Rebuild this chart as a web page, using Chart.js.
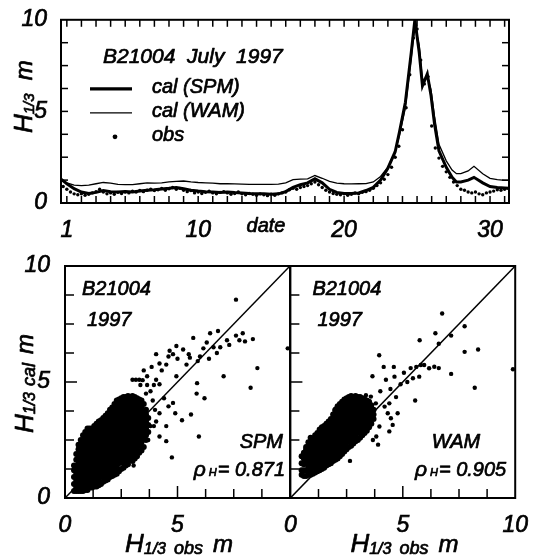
<!DOCTYPE html>
<html><head><meta charset="utf-8">
<script src="https://cdn.jsdelivr.net/npm/chart.js@4.4.0/dist/chart.umd.min.js"></script>
<style>
html,body{margin:0;padding:0;background:#fff;}
#wrap{position:relative;width:534px;height:559px;overflow:hidden;background:#fff;}
canvas{position:absolute;}
</style></head><body>
<div id="wrap">
<canvas id="cTop" width="534" height="245" style="left:0;top:0"></canvas>
<canvas id="cSpm" width="300" height="319" style="left:0;top:240px"></canvas>
<canvas id="cWam" width="256" height="319" style="left:278px;top:240px"></canvas>
</div>
<script>
// ---------------- time series (B21004, July 1997) ----------------
const modelDays = [0.6,1,1.5,2,2.5,3,3.5,4,4.5,5,5.5,6,6.5,7,7.5,8,8.5,9,9.5,10,10.5,11,11.5,12,12.5,13,13.5,14,14.5,15,15.5,16,16.5,17,17.5,18,18.5,19,19.5,20,20.5,21,21.5,22,22.5,23,23.5,23.8,24.2,24.6,24.85,25.15,25.37,25.7,25.95,26.2,26.5,27,27.4,27.7,28,28.5,28.9,29.5,30,30.5,31,31.3];
const spmH = [1.3,1.05,0.78,0.6,0.52,0.58,0.68,0.62,0.6,0.63,0.6,0.65,0.7,0.72,0.76,0.8,0.85,0.78,0.7,0.65,0.62,0.6,0.58,0.6,0.57,0.55,0.52,0.5,0.5,0.48,0.5,0.62,0.85,1.0,1.1,1.32,1.1,0.75,0.58,0.52,0.52,0.55,0.68,0.85,1.25,1.9,2.8,3.9,5.5,8.2,10.0,8.2,6.4,7.05,5.9,4.3,2.85,1.95,1.4,1.15,1.15,1.25,1.4,1.1,0.9,0.85,0.82,0.8];
const wamH = [1.25,1.1,0.98,0.95,0.98,1.05,1.12,1.08,1.02,1.0,1.0,1.05,1.1,1.08,1.1,1.15,1.18,1.2,1.15,1.12,1.1,1.08,1.05,1.05,1.04,1.03,1.02,1.02,1.02,1.02,1.03,1.1,1.28,1.3,1.32,1.5,1.35,1.18,1.08,1.05,1.04,1.05,1.06,1.15,1.45,1.95,2.8,3.7,5.2,7.9,9.7,8.6,6.7,6.9,6.2,4.7,3.2,2.3,1.8,1.6,1.6,1.75,2.0,1.6,1.35,1.28,1.24,1.24];
const obsDays = [0.75,
 1,1.25,1.5,1.75, 2,2.25,2.5,2.75, 3,3.25,3.5,3.75, 4,4.25,4.5,4.75, 5,5.25,5.5,5.75,
 6,6.25,6.5,6.75, 7,7.25,7.5,7.75, 8,8.25,8.5,8.75, 9,9.25,9.5,9.75, 10,10.25,10.5,10.75,
 11,11.25,11.5,11.75, 12,12.25,12.5,12.75, 13,13.25,13.5,13.75, 14,14.25,14.5,14.75, 15,15.25,15.5,15.75,
 16,16.25,16.5,16.75, 17,17.25,17.5,17.75, 18,18.25,18.5,18.75, 19,19.25,19.5,19.75, 20,20.25,20.5,20.75,
 21,21.25,21.5,21.75, 22,22.25,22.5,22.75, 23,23.25,23.5,23.75, 24,24.25,24.5,24.75, 25,25.25,25.5,25.75,
 26,26.25,26.5,26.75, 27,27.25,27.5,27.75, 28,28.25,28.5,28.75, 29,29.25,29.5,29.75, 30,30.25,30.5,30.75,
 31,31.25];
const obsH = [0.9,
 0.75,0.6,0.5,0.45, 0.5,0.42,0.48,0.55, 0.62,0.75,0.6,0.5, 0.55,0.48,0.58,0.52, 0.6,0.55,0.65,0.6,
 0.68,0.62,0.7,0.75, 0.68,0.72,0.8,0.7, 0.78,0.85,0.75,0.8, 0.7,0.62,0.68,0.55, 0.6,0.52,0.58,0.65,
 0.55,0.5,0.58,0.62, 0.55,0.48,0.52,0.6, 0.5,0.45,0.52,0.48, 0.42,0.5,0.45,0.4, 0.48,0.42,0.5,0.55,
 0.6,0.72,0.8,0.75, 0.85,0.9,0.95,1.05, 1.15,1.0,0.85,0.7, 0.6,0.52,0.48,0.45, 0.5,0.42,0.48,0.55,
 0.5,0.58,0.62,0.7, 0.8,0.95,1.1,1.3, 1.55,1.95,2.5,3.1, 4.0,5.2,7.0,9.0, 9.5,7.8,6.5,6.9,
 4.2,3.0,2.45,2.0, 1.7,1.4,1.15,0.95, 0.75,0.7,0.6,0.55, 0.6,0.5,0.45,0.55, 0.6,0.65,0.72,0.7,
 0.75,0.8];
const topXLabels = [1,10,20,30];
const topYLabels = [0,5,10];
const dayTicks = [1,2,3,4,5,6,7,8,9,10,11,12,13,14,15,16,17,18,19,20,21,22,23,24,25,26,27,28,29,30,31];
const hTicks = [1.25,2.5,3.75,5,6.25,7.5,8.75];

// ---------------- scatter: SPM ----------------
const spmObsCols = [0.4,0.5,0.6,0.7,0.8,0.9,1.0,1.1,1.2,1.3,1.4,1.5,1.6,1.7,1.8,1.9,2.0,2.1,2.2,2.3,2.4,2.5,2.6,2.7,2.8,2.9,3.0,3.1,3.2,3.3,3.4,3.5,3.6,3.7];
const spmCalCols = [
 [0.3,0.6,0.9,1.2,1.4],
 [0.3,0.45,0.75,1.05,1.35,1.65,1.9],
 [0.3,0.6,0.9,1.2,1.5,1.8,2.1,2.3],
 [0.3,0.45,0.75,1.05,1.35,1.65,1.95,2.25,2.5],
 [0.3,0.6,0.9,1.2,1.5,1.8,2.1,2.4,2.7],
 [0.35,0.45,0.75,1.05,1.35,1.65,1.95,2.25,2.55,2.85],
 [0.35,0.6,0.9,1.2,1.5,1.8,2.1,2.4,2.7,3.0],
 [0.45,0.75,1.05,1.35,1.65,1.95,2.25,2.55,2.85,3.0],
 [0.45,0.6,0.9,1.2,1.5,1.8,2.1,2.4,2.7,3.0],
 [0.5,0.75,1.05,1.35,1.65,1.95,2.25,2.55,2.85,3.1],
 [0.5,0.6,0.9,1.2,1.5,1.8,2.1,2.4,2.7,3.0,3.2],
 [0.55,0.75,1.05,1.35,1.65,1.95,2.25,2.55,2.85,3.15,3.3],
 [0.6,0.9,1.2,1.5,1.8,2.1,2.4,2.7,3.0,3.3,3.35],
 [0.7,1.05,1.35,1.65,1.95,2.25,2.55,2.85,3.15,3.45],
 [0.75,0.9,1.2,1.5,1.8,2.1,2.4,2.7,3.0,3.3,3.55],
 [0.8,1.05,1.35,1.65,1.95,2.25,2.55,2.85,3.15,3.45,3.65],
 [0.9,1.2,1.5,1.8,2.1,2.4,2.7,3.0,3.3,3.6,3.8],
 [0.95,1.05,1.35,1.65,1.95,2.25,2.55,2.85,3.15,3.45,3.75,3.9],
 [1.0,1.2,1.5,1.8,2.1,2.4,2.7,3.0,3.3,3.6,3.9,4.05],
 [1.05,1.35,1.65,1.95,2.25,2.55,2.85,3.15,3.45,3.75,4.05,4.2],
 [1.15,1.5,1.8,2.1,2.4,2.7,3.0,3.3,3.6,3.9,4.2,4.25],
 [1.25,1.65,1.95,2.25,2.55,2.85,3.15,3.45,3.75,4.05,4.3],
 [1.3,1.5,1.8,2.1,2.4,2.7,3.0,3.3,3.6,3.9,4.2,4.35],
 [1.4,1.65,1.95,2.25,2.55,2.85,3.15,3.45,3.75,4.05,4.35],
 [1.45,1.8,2.1,2.4,2.7,3.0,3.3,3.6,3.9,4.2,4.4],
 [1.65,1.95,2.25,2.55,2.85,3.15,3.45,3.75,4.05,4.35],
 [1.6,1.8,2.1,2.4,2.7,3.0,3.3,3.6,3.9,4.2,4.4],
 [1.7,1.95,2.25,2.55,2.85,3.15,3.45,3.75,4.05,4.35],
 [1.8,2.1,2.4,2.7,3.0,3.3,3.6,3.9,4.2,4.3],
 [1.95,2.25,2.55,2.85,3.15,3.45,3.75,4.05,4.25],
 [2.05,2.4,2.7,3.0,3.3,3.6,3.9,4.2],
 [2.2,2.55,2.85,3.15,3.45,3.75,4.05],
 [2.5,2.7,3.0,3.3,3.6,3.8],
 [2.85,3.15,3.45]
];
const spmScattered = [[7.6,8.55],[9.9,6.45],[8.55,5.6],[8.25,4.75],[7.05,5.25],[5.95,2.65],[4.75,1.75],[3.05,1.4],[5.6,3.6],[5.2,3.35],[6.2,4.3],[5.85,4.5],[5.87,4.95],[7.6,7.0],[7.75,6.8],[8.0,6.75],[8.35,6.85],[7.9,7.1],[7.2,6.8],[6.75,6.25],[6.4,6.0],[6.6,6.5],[6.9,6.5],[6.15,6.45],[6.0,6.1],[6.45,7.1],[6.8,7.2],[5.7,6.9],[5.25,6.4],[4.95,6.55],[4.65,6.35],[4.6,6.1],[4.8,6.2],[4.05,6.2],[4.2,5.8],[3.85,5.65],[3.5,5.5],[3.65,5.25],[4.05,5.1],[3.0,5.1],[3.15,5.1],[3.3,5.1],[3.45,5.08],[3.35,4.87],[3.65,4.87],[3.95,4.87],[4.5,5.75],[5.4,5.75],[5.55,6.05],[4.95,5.25],[4.8,4.1],[4.6,3.95],[4.9,3.65],[4.2,3.65],[4.05,3.3],[3.95,3.1],[4.5,3.1],[4.2,2.65],[4.5,2.45],[3.65,2.85],[3.7,2.5],[3.35,2.35],[3.25,1.95],[3.8,3.1],[4.0,3.8],[5.0,6.0],[5.5,6.2],[6.3,6.7],[7.3,6.6],[5.9,5.9],[4.3,5.5],[3.8,4.6],[4.4,4.3],[3.9,4.2],[3.6,4.5],[4.2,4.9]];

// ---------------- scatter: WAM ----------------
const wamObsCols = [0.5,0.6,0.7,0.8,0.9,1.0,1.1,1.2,1.3,1.4,1.5,1.6,1.7,1.8,1.9,2.0,2.1,2.2,2.3,2.4,2.5,2.6,2.7,2.8,2.9,3.0,3.1,3.2,3.3,3.4,3.5,3.6,3.7];
const wamCalCols = [
 [1.0,1.2,1.5,1.8],
 [0.95,1.2,1.45,1.7,1.95],
 [0.95,1.2,1.5,1.8,2.1,2.2],
 [1.0,1.35,1.65,1.95,2.25,2.4],
 [1.0,1.2,1.5,1.8,2.1,2.4,2.6],
 [1.05,1.35,1.65,1.95,2.25,2.55],
 [1.1,1.3,1.5,1.8,2.1,2.4,2.7],
 [1.15,1.35,1.65,1.95,2.25,2.55,2.8],
 [1.2,1.5,1.8,2.1,2.4,2.7,2.95],
 [1.25,1.4,1.65,1.95,2.25,2.55,2.85,3.05],
 [1.3,1.5,1.8,2.1,2.4,2.7,3.0,3.1],
 [1.4,1.65,1.95,2.25,2.55,2.85,3.15,3.2],
 [1.45,1.8,2.1,2.4,2.7,3.0,3.3],
 [1.5,1.65,1.95,2.25,2.55,2.85,3.15,3.4],
 [1.6,1.8,2.1,2.4,2.7,3.0,3.3,3.6],
 [1.65,1.95,2.25,2.55,2.85,3.15,3.45,3.75,3.8],
 [1.7,1.9,2.1,2.4,2.7,3.0,3.3,3.6,3.9,3.95],
 [1.8,1.95,2.25,2.55,2.85,3.15,3.45,3.75,4.05],
 [1.9,2.1,2.4,2.7,3.0,3.3,3.6,3.9,4.15],
 [2.0,2.25,2.55,2.85,3.15,3.45,3.75,4.05,4.25],
 [2.1,2.4,2.7,3.0,3.3,3.6,3.9,4.2,4.3],
 [2.2,2.55,2.85,3.15,3.45,3.75,4.05,4.35],
 [2.25,2.4,2.7,3.0,3.3,3.6,3.9,4.2,4.4],
 [2.35,2.55,2.85,3.15,3.45,3.75,4.05,4.35],
 [2.45,2.7,3.0,3.3,3.6,3.9,4.2,4.4],
 [2.5,2.85,3.15,3.45,3.75,4.05,4.35],
 [2.6,2.8,3.0,3.3,3.6,3.9,4.2,4.35],
 [2.7,2.85,3.15,3.45,3.75,4.05,4.3],
 [2.8,3.0,3.3,3.6,3.9,4.2,4.25],
 [2.9,3.15,3.45,3.75,4.05,4.2],
 [3.05,3.3,3.6,3.9,4.15],
 [3.2,3.45,3.75,4.0],
 [3.4,3.6,3.8]
];
const wamScattered = [[6.75,7.95],[7.75,7.4],[6.45,7.1],[7.15,7.0],[5.75,6.8],[6.6,6.65],[7.75,6.3],[8.35,6.4],[9.9,5.55],[8.2,4.75],[7.15,5.35],[3.95,6.15],[4.15,5.65],[4.6,5.65],[3.65,5.25],[4.25,5.1],[4.63,5.23],[5.05,5.4],[5.35,5.6],[5.6,5.65],[5.8,5.73],[5.95,5.73],[6.17,5.59],[6.4,5.66],[6.6,5.6],[5.45,5.16],[5.73,5.23],[5.55,4.2],[4.7,4.35],[4.4,4.08],[4.77,3.65],[4.47,3.44],[4.55,3.15],[4.4,2.87],[3.96,3.08],[4.19,3.94],[3.82,2.65],[3.9,2.3],[3.67,2.5],[4.33,3.65],[2.65,1.6],[2.58,4.22],[3.36,4.43],[3.58,4.37],[3.8,4.08],[3.7,3.8],[4.0,4.6],[4.9,4.9],[5.2,5.0],[4.45,4.7]];

const scatterXLabelsL = [0,5];
const scatterXLabelsR = [0,5,10];
const scatterYLabels = [0,5,10];
const diagLine = [0,10];

// ---------------- helpers ----------------
const FONT = "'Liberation Sans', Arial, Helvetica, sans-serif";
const fnt = (px) => `italic ${px}px ${FONT}`;
const EMB = 0.7; // slight emboldening like the printed figure
Chart.defaults.font.family = FONT;
Chart.defaults.color = '#000';

function txt(ctx, t, x, y) {
  ctx.fillText(t, x, y);
  ctx.lineWidth = EMB; ctx.strokeStyle = '#000'; ctx.lineJoin = 'round';
  ctx.strokeText(t, x, y);
}
function drawRun(ctx, x, y, parts) {
  let cx = x;
  for (const p of parts) {
    ctx.font = fnt(p.s);
    cx += p.g || 0;
    txt(ctx, p.t, cx, y + (p.dy || 0));
    cx += ctx.measureText(p.t).width;
  }
  return cx - x;
}
function runWidth(ctx, parts) {
  let w = 0;
  for (const p of parts) { ctx.font = fnt(p.s); w += (p.g || 0) + ctx.measureText(p.t).width; }
  return w;
}
function drawRunUp(ctx, x, y, parts) {
  ctx.save(); ctx.translate(x, y); ctx.rotate(-Math.PI / 2);
  drawRun(ctx, 0, 0, parts); ctx.restore();
}
function box(ctx, a, w) {
  ctx.save();
  ctx.setLineDash([]); ctx.globalAlpha = 1; ctx.globalCompositeOperation = 'source-over';
  ctx.strokeStyle = '#000'; ctx.lineWidth = w;
  ctx.strokeRect(a.left, a.top, a.right - a.left, a.bottom - a.top);
  ctx.restore();
}
function seg(ctx, x1, y1, x2, y2, w) {
  ctx.save();
  ctx.setLineDash([]); ctx.strokeStyle = '#000'; ctx.lineWidth = w; ctx.lineCap = 'butt';
  ctx.beginPath(); ctx.moveTo(x1, y1); ctx.lineTo(x2, y2); ctx.stroke();
  ctx.restore();
}
const tickFont = { family: FONT, size: 23, style: 'italic' };
const tickOpts = (pad) => ({ font: tickFont, color: '#000', padding: pad, maxRotation: 0, autoSkip: false, textStrokeColor: '#000', textStrokeWidth: EMB, callback: v => String(v) });
function fixedTicks(list) { return (s) => { s.ticks = list.map(v => ({ value: v })); }; }

// ---------------- top chart ----------------
const topDeco = {
  id: 'topDeco',
  afterDraw(chart) {
    const { ctx, chartArea: a, scales: { x, y } } = chart;
    for (const d of dayTicks) {
      const px = x.getPixelForValue(d);
      seg(ctx, px, a.bottom, px, a.bottom - 7, 1.5);
      seg(ctx, px, a.top, px, a.top + 7, 1.5);
    }
    for (const v of hTicks) {
      const py = y.getPixelForValue(v);
      seg(ctx, a.left, py, a.left + 7, py, 1.5);
      seg(ctx, a.right, py, a.right - 7, py, 1.5);
    }
    box(ctx, a, 2);
    ctx.save();
    ctx.fillStyle = '#000';
    ctx.textBaseline = 'middle';
    ctx.font = fnt(21);
    txt(ctx, 'B21004  July  1997', a.left + 42, a.top + 37);
    seg(ctx, a.left + 29, a.top + 69, a.left + 71, a.top + 69, 3.2);
    seg(ctx, a.left + 29, a.top + 93, a.left + 71, a.top + 93, 1.3);
    ctx.fillStyle = '#000';
    ctx.beginPath(); ctx.arc(a.left + 54, a.top + 117, 2.4, 0, Math.PI * 2); ctx.fill();
    ctx.font = fnt(20);
    txt(ctx, 'cal (SPM)', a.left + 91, a.top + 68);
    txt(ctx, 'cal (WAM)', a.left + 91, a.top + 92);
    txt(ctx, 'obs', a.left + 91, a.top + 116);
    ctx.textBaseline = 'alphabetic';
    drawRunUp(ctx, 32, 133, [{ t: 'H', s: 26 }, { t: '1/3', s: 15, dy: 2 }, { t: 'm', s: 24, g: 13 }]);
    ctx.font = fnt(20); ctx.textAlign = 'center';
    txt(ctx, 'date', 266, 232);
    ctx.restore();
  }
};

new Chart(document.getElementById('cTop'), {
  type: 'scatter',
  data: {
    datasets: [
      { label: 'cal (SPM)', data: modelDays.map((d, i) => ({ x: d, y: spmH[i] })), showLine: true, borderColor: '#000', borderWidth: 3, pointRadius: 0, tension: 0 },
      { label: 'cal (WAM)', data: modelDays.map((d, i) => ({ x: d, y: wamH[i] })), showLine: true, borderColor: '#000', borderWidth: 1.3, pointRadius: 0, tension: 0 },
      { label: 'obs', data: obsDays.map((d, i) => ({ x: d, y: obsH[i] })), showLine: false, pointRadius: 1.7, backgroundColor: '#000', borderWidth: 0 }
    ]
  },
  options: {
    responsive: false, animation: false, devicePixelRatio: 1,
    layout: { padding: { left: 0, top: 17, right: 25, bottom: 0 } },
    plugins: { legend: { display: false }, tooltip: { enabled: false } },
    scales: {
      x: {
        type: 'linear', min: 0.6, max: 31.3,
        afterFit: (s) => { s.height = 42; },
        afterBuildTicks: fixedTicks(topXLabels),
        grid: { display: false }, border: { display: false },
        ticks: tickOpts(6)
      },
      y: {
        min: 0, max: 10,
        afterFit: (s) => { s.width = 61; },
        afterBuildTicks: fixedTicks(topYLabels),
        grid: { display: false }, border: { display: false },
        ticks: tickOpts(6)
      }
    }
  },
  plugins: [topDeco]
});

// ---------------- scatter charts ----------------
function blobPoints(cols, lists, extra) {
  const pts = [];
  cols.forEach((x, i) => lists[i].forEach(y => pts.push({ x, y })));
  extra.forEach(p => pts.push({ x: p[0], y: p[1] }));
  return pts;
}
function scatterDeco(model, rho, yTitle, bx, mx, rx) {
  return {
    id: 'sd' + model,
    afterDraw(chart) {
      const { ctx, chartArea: a, scales: { x, y } } = chart;
      for (const v of hTicks) {
        const L = v === 5 ? 12 : 9;
        const px = x.getPixelForValue(v);
        seg(ctx, px, a.bottom, px, a.bottom - L, 1.5);
        const py = y.getPixelForValue(v);
        seg(ctx, a.left, py, a.left + L, py, 1.5);
      }
      box(ctx, a, 2);
      ctx.save();
      ctx.fillStyle = '#000';
      ctx.textBaseline = 'middle';
      ctx.font = fnt(20);
      txt(ctx, 'B21004', a.left + bx, a.top + 23);
      txt(ctx, '1997', a.left + bx + 5, a.top + 54);
      ctx.textAlign = 'right';
      txt(ctx, model, a.right - mx, a.bottom - 56);
      ctx.textAlign = 'left';
      ctx.textBaseline = 'alphabetic';
      const parts = [{ t: 'ρ', s: 21 }, { t: 'H', s: 11, g: 3 }, { t: '= ' + rho, s: 20, g: 1 }];
      const w = runWidth(ctx, parts);
      drawRun(ctx, a.right - rx - w, a.bottom - 22, parts);
      drawRun(ctx, a.left + 60, a.bottom + 54, [{ t: 'H', s: 26 }, { t: '1/3', s: 16, dy: 2 }, { t: 'obs', s: 18, dy: 2, g: 8 }, { t: 'm', s: 24, g: 10 }]);
      if (yTitle) drawRunUp(ctx, 33, a.bottom - 65, [{ t: 'H', s: 26 }, { t: '1/3', s: 16, dy: 2 }, { t: 'cal', s: 18, dy: 2, g: 6 }, { t: 'm', s: 24, g: 9 }]);
      ctx.restore();
    }
  };
}
function makeScatter(id, cols, lists, extra, xLabels, showY, pad, model, rho, bx, mx, rx) {
  const pts = blobPoints(cols, lists, extra);
  const nBlob = pts.length - extra.length;
  new Chart(document.getElementById(id), {
    type: 'scatter',
    data: {
      datasets: [
        { label: 'y=x', data: diagLine.map(v => ({ x: v, y: v })), showLine: true, borderColor: '#000', borderWidth: 1.5, pointRadius: 0 },
        { label: model, data: pts, pointRadius: (c) => (c.dataIndex < nBlob ? 3 : 2.2), backgroundColor: '#000', borderWidth: 0 }
      ]
    },
    options: {
      responsive: false, animation: false, devicePixelRatio: 1,
      layout: { padding: pad },
      plugins: { legend: { display: false }, tooltip: { enabled: false } },
      scales: {
        x: {
          type: 'linear', min: 0, max: 10,
          afterFit: (s) => { s.height = 61; },
          afterBuildTicks: fixedTicks(xLabels),
          grid: { display: false }, border: { display: false },
          ticks: tickOpts(6)
        },
        y: {
          min: 0, max: 10, display: showY,
          afterFit: (s) => { s.width = showY ? 65 : 0; },
          afterBuildTicks: fixedTicks(scatterYLabels),
          grid: { display: false }, border: { display: false },
          ticks: tickOpts(7)
        }
      }
    },
    plugins: [scatterDeco(model, rho, showY, bx, mx, rx)]
  });
}
makeScatter('cSpm', spmObsCols, spmCalCols, spmScattered, scatterXLabelsL, true, { left: 0, top: 26, right: 10, bottom: 0 }, 'SPM', '0.871', 17, 7, 5);
makeScatter('cWam', wamObsCols, wamCalCols, wamScattered, scatterXLabelsR, false, { left: 12, top: 26, right: 17, bottom: 0 }, 'WAM', '0.905', 22, 35, 9);
</script>
</body></html>
